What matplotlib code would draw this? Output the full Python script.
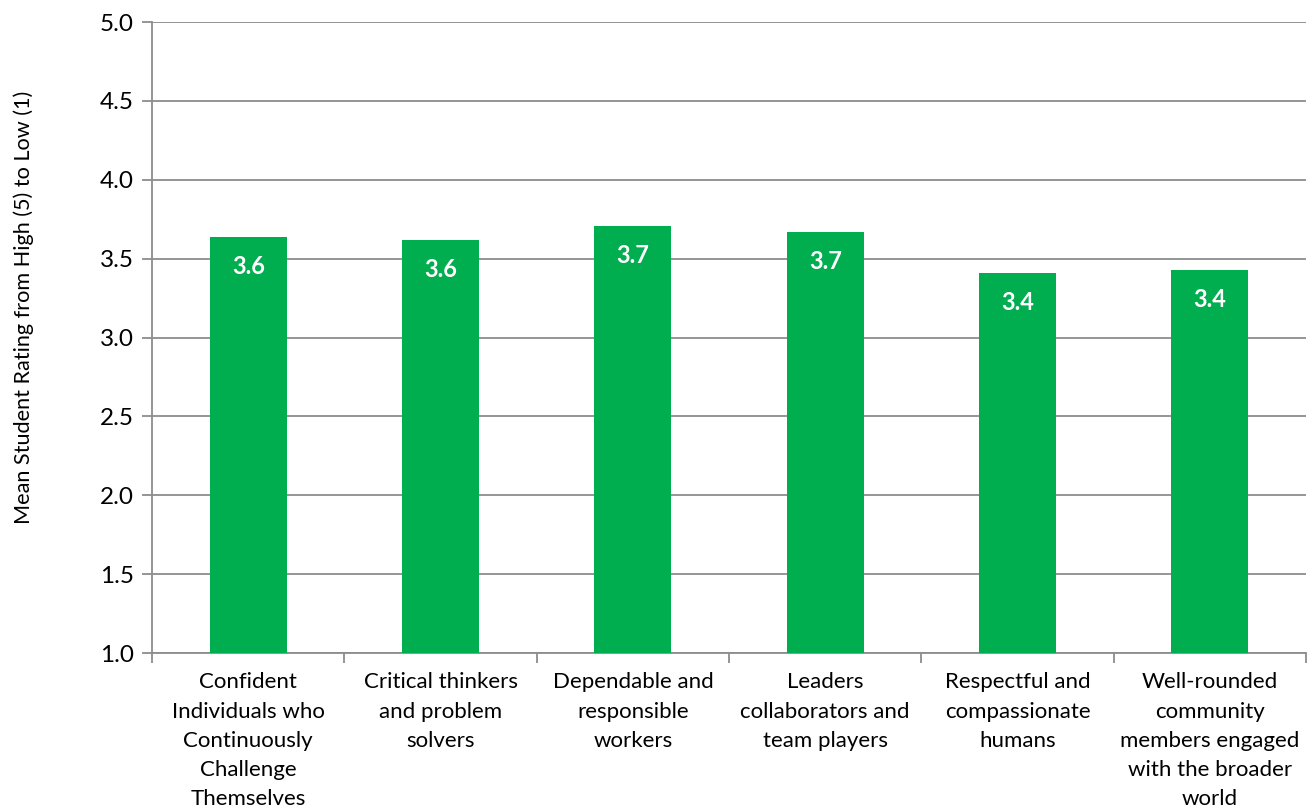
import matplotlib.pyplot as plt

plt.rcParams['font.family'] = ['Lato', 'DejaVu Sans']

categories = [
    "Confident\nIndividuals who\nContinuously\nChallenge\nThemselves",
    "Critical thinkers\nand problem\nsolvers",
    "Dependable and\nresponsible\nworkers",
    "Leaders\ncollaborators and\nteam players",
    "Respectful and\ncompassionate\nhumans",
    "Well-rounded\ncommunity\nmembers engaged\nwith the broader\nworld",
]
ratings = [3.64, 3.62, 3.71, 3.67, 3.41, 3.43]
y_ticks = [1.0, 1.5, 2.0, 2.5, 3.0, 3.5, 4.0, 4.5, 5.0]

grey = '#8c8c8c'
green = '#00ad4f'

fig = plt.figure(figsize=(13.13, 8.1), dpi=100)
ax = fig.add_axes([0.1158, 0.1938, 0.8789, 0.779])

x = list(range(len(categories)))
bars = ax.bar(x, ratings, width=0.4, color=green, zorder=3)
for rect, val in zip(bars, ratings):
    ax.annotate(f"{val:.1f}", (rect.get_x() + rect.get_width() / 2, val),
                xytext=(0, -21.5), textcoords='offset points',
                ha='center', va='center', color='white',
                fontsize=17, fontweight='bold', zorder=4)

ax.set_xlim(-0.5, len(categories) - 0.5)
ax.set_ylim(1.0, 5.0)
ax.set_yticks(y_ticks)
ax.set_yticklabels([f"{t:.1f}" for t in y_ticks], fontsize=17.5)
ax.yaxis.grid(True, color=grey, linewidth=1.3, zorder=0)

ax.set_xticks([i + 0.5 for i in x[:-1]] + [-0.5, len(categories) - 0.5])
ax.set_xticklabels([])
ax.set_xticks(x, minor=True)
ax.set_xticklabels(categories, minor=True, fontsize=16, linespacing=1.57)
ax.tick_params(axis='x', which='minor', length=0, pad=14)
ax.tick_params(axis='x', which='major', length=7, width=1.3, color=grey)
ax.tick_params(axis='y', length=7, width=1.3, color=grey, pad=6)

for side in ['top', 'right']:
    ax.spines[side].set_visible(False)
for side in ['left', 'bottom']:
    ax.spines[side].set_color(grey)
    ax.spines[side].set_linewidth(1.3)

fig.text(0.018, 0.621, "Mean Student Rating from High (5) to Low (1)",
         rotation=90, ha='center', va='center', fontsize=15.6)

plt.savefig('out.png', dpi=100)
